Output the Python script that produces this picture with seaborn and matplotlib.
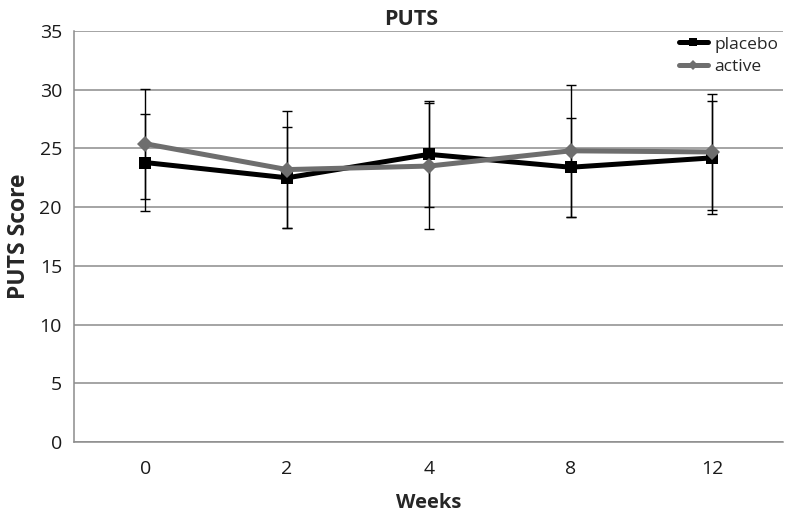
import numpy as np
import pandas as pd
import seaborn as sns
import matplotlib.pyplot as plt
from matplotlib.lines import Line2D

# Data
weeks = ['0', '2', '4', '8', '12']
placebo_mean = [23.8, 22.5, 24.5, 23.4, 24.2]
placebo_err = [4.1, 4.3, 4.5, 4.2, 4.8]
active_mean = [25.4, 23.2, 23.5, 24.8, 24.7]
active_err = [4.7, 5.0, 5.4, 5.6, 4.9]

sns.set_style('white')
plt.rcParams['font.family'] = ['Open Sans', 'DejaVu Sans']

pos = np.arange(len(weeks))
df = pd.DataFrame({
    'pos': np.concatenate([pos, pos]),
    'score': placebo_mean + active_mean,
    'group': ['placebo'] * len(weeks) + ['active'] * len(weeks),
})

fig = plt.figure(figsize=(7.92, 5.17), dpi=100)
ax = fig.add_axes([0.094, 0.145, 0.895, 0.795])

colors = {'placebo': '#000000', 'active': '#6e6e6e'}
markers = {'placebo': 's', 'active': 'D'}

# error bars first (thin black)
for m, e in [(placebo_mean, placebo_err), (active_mean, active_err)]:
    ax.errorbar(pos, m, yerr=e, fmt='none', ecolor='black', elinewidth=1.0,
                capsize=3.5, capthick=1.0, zorder=2)

sns.lineplot(data=df, x='pos', y='score', hue='group', style='group',
             palette=colors, markers=markers, dashes=False, linewidth=3.6,
             markersize=8.5, markeredgewidth=0, ax=ax, zorder=3, legend=False)

# legend
handles = [Line2D([0], [0], color='#000000', lw=3.6, marker='s', markersize=6, markeredgewidth=0),
           Line2D([0], [0], color='#6e6e6e', lw=3.6, marker='D', markersize=5, markeredgewidth=0)]
ax.legend(handles, ['placebo', 'active'], loc='upper right', frameon=False,
          fontsize=12.5, handlelength=1.7, handletextpad=0.35, labelspacing=0.35,
          bbox_to_anchor=(1.015, 1.025))

ax.set_xlim(-0.5, len(weeks) - 0.5)
ax.set_ylim(0, 35)
ax.set_yticks(range(0, 36, 5))
ax.set_xticks(pos)
ax.set_xticklabels(weeks)
ax.tick_params(axis='both', labelsize=14, colors='#1a1a1a')
ax.tick_params(axis='y', length=4, color='#888888', width=1, pad=5)
ax.tick_params(axis='x', length=0, pad=13)
ax.yaxis.grid(True, color='#8c8c8c', linewidth=1.1)
ax.xaxis.grid(False)
for s in ['top', 'right']:
    ax.spines[s].set_visible(False)
for s in ['left', 'bottom']:
    ax.spines[s].set_color('#8c8c8c')
    ax.spines[s].set_linewidth(1.1)

ax.set_xlabel('Weeks', fontsize=14.5, fontweight='bold', labelpad=11)
ax.set_ylabel('PUTS Score', fontsize=16.5, fontweight='bold', labelpad=6)
ax.set_title('PUTS', fontsize=15.5, fontweight='bold', x=0.475, pad=4)

fig.savefig('out.png', dpi=100)
